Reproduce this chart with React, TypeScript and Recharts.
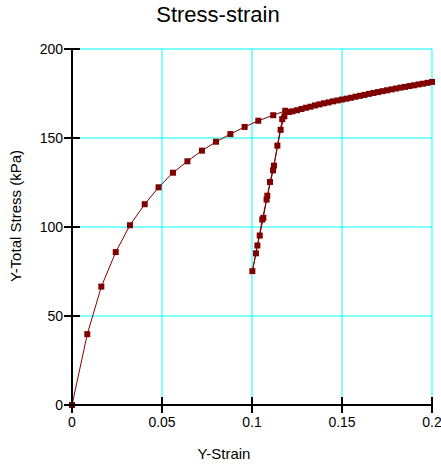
import React from 'react';
import { LineChart, Line, XAxis, YAxis, CartesianGrid } from 'recharts';

// strain / stress path: loading, unload, reload, continued loading
const strain = [
  0, 0.0085, 0.0163, 0.0243, 0.0322, 0.0404, 0.0481, 0.0561, 0.0641, 0.0722, 0.08, 0.088, 0.0959, 0.1035, 0.1118, 0.1185,
  0.1168, 0.1141, 0.1117, 0.1081, 0.1057, 0.1022, 0.1002,
  0.103, 0.1043, 0.1063, 0.1085, 0.11, 0.1122, 0.1159, 0.118, 0.1205,
  0.1225, 0.125, 0.1275, 0.13, 0.1325, 0.135, 0.1375, 0.14, 0.1425, 0.145, 0.1475, 0.15, 0.1525, 0.155, 0.1575, 0.16,
  0.1625, 0.165, 0.1675, 0.17, 0.1725, 0.175, 0.1775, 0.18, 0.1825, 0.185, 0.1875, 0.19, 0.1925, 0.195, 0.1975, 0.2,
];
const stress = [
  0, 39.8, 66.5, 85.9, 101, 112.8, 122.3, 130.5, 136.9, 142.9, 147.9, 152.2, 156.2, 159.7, 162.8, 165.3,
  160.6, 145.7, 131.8, 115.4, 104.2, 85.2, 75.2,
  89.6, 95.2, 105.1, 117.6, 125.3, 134.5, 154.6, 162.2, 164.6,
  165.0, 165.6, 166.3, 167.0, 167.6, 168.3, 168.9, 169.5, 170.0, 170.6, 171.1, 171.6, 172.1, 172.6, 173.2, 173.7,
  174.2, 174.8, 175.3, 175.8, 176.3, 176.8, 177.3, 177.8, 178.3, 178.7, 179.2, 179.6, 180.1, 180.5, 181.0, 181.5,
];
const xTicks = [0, 0.05, 0.1, 0.15, 0.2];
const yTicks = [0, 50, 100, 150, 200];

const data = strain.map((x, i) => ({ x, y: stress[i] }));

const FONT = '"Liberation Sans", Arial, sans-serif';
const RED = '#800000';

const SquareDot = (props: any) => {
  const { cx, cy, index } = props;
  if (cx == null || cy == null) return null;
  return <rect key={`d-${index}`} x={cx - 3} y={cy - 3} width={6} height={6} fill={RED} />;
};

const XTick = (props: any) => {
  const { x, y, payload } = props;
  return (
    <g>
      <line x1={x} x2={x} y1={y - 8} y2={y + 8} stroke="#000" strokeWidth={2} />
      <text x={x} y={y + 22} textAnchor="middle" fontSize={14} fontFamily={FONT} fill="#000">
        {payload.value}
      </text>
    </g>
  );
};

const YTick = (props: any) => {
  const { x, y, payload } = props;
  return (
    <g>
      <line x1={x - 8} x2={x + 8} y1={y} y2={y} stroke="#000" strokeWidth={2} />
      <text x={x - 9} y={y + 5} textAnchor="end" fontSize={14} fontFamily={FONT} fill="#000">
        {payload.value}
      </text>
    </g>
  );
};

export default function App() {
  return (
    <div style={{ position: 'absolute', left: 0, top: 0, width: 441, height: 464, background: '#fff' }}>
      <LineChart width={441} height={464} data={data} margin={{ top: 49, right: 9, bottom: 0, left: 0 }}>
        <CartesianGrid stroke="#00ffff" strokeWidth={1} />
        <XAxis
          dataKey="x"
          type="number"
          domain={[0, 0.2]}
          ticks={xTicks}
          height={59}
          tickSize={0}
          tickMargin={0}
          tickLine={false}
          axisLine={{ stroke: '#000', strokeWidth: 2 }}
          tick={<XTick />}
          interval={0}
        />
        <YAxis
          type="number"
          domain={[0, 200]}
          ticks={yTicks}
          width={72}
          tickSize={0}
          tickMargin={0}
          tickLine={false}
          axisLine={{ stroke: '#000', strokeWidth: 2 }}
          tick={<YTick />}
          interval={0}
        />
        <Line
          dataKey="y"
          type="linear"
          stroke={RED}
          strokeWidth={1}
          dot={SquareDot}
          activeDot={false}
          isAnimationActive={false}
        />
      </LineChart>
      <svg width={441} height={464} style={{ position: 'absolute', left: 0, top: 0, pointerEvents: 'none' }}>
        <text x={218} y={22} textAnchor="middle" fontSize={22} fontFamily={FONT} fill="#000">
          Stress-strain
        </text>
        <text x={224} y={459} textAnchor="middle" fontSize={15} fontFamily={FONT} fill="#000">
          Y-Strain
        </text>
        <text x={21} y={216} textAnchor="middle" fontSize={15} fontFamily={FONT} fill="#000" transform="rotate(-90, 21, 216)">
          Y-Total Stress (kPa)
        </text>
      </svg>
    </div>
  );
}
